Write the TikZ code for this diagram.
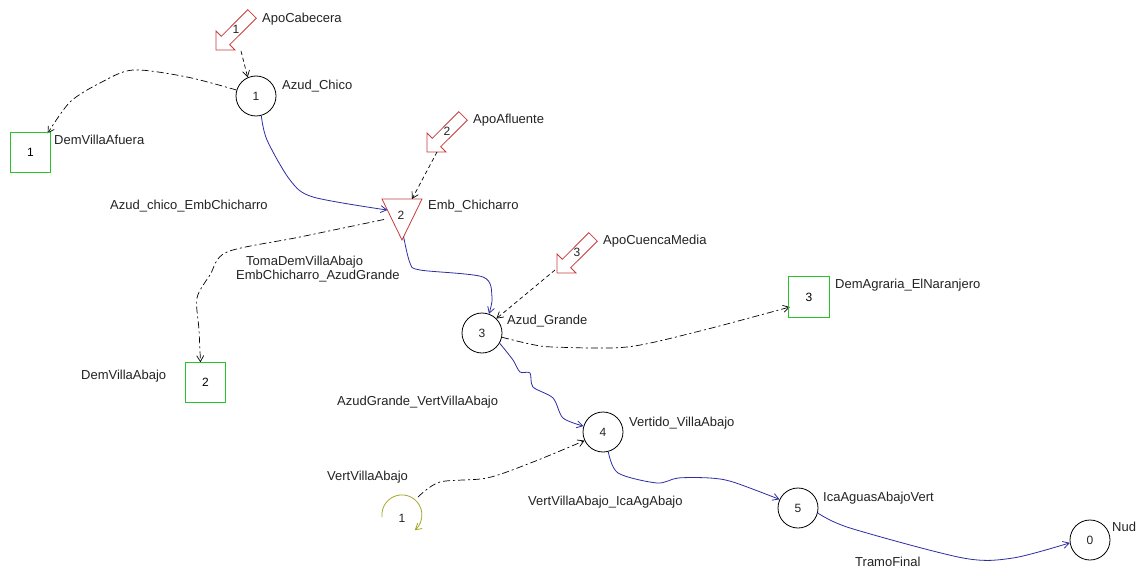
\documentclass[tikz,border=0pt]{standalone}
\usepackage{fontspec}
\setmainfont{Liberation Sans}
\usetikzlibrary{arrows.meta,calc}
\definecolor{flow}{RGB}{45,45,165}
\definecolor{apored}{RGB}{200,60,60}
\definecolor{demgreen}{RGB}{40,195,40}
\definecolor{vertolive}{RGB}{165,165,40}
\definecolor{txt}{RGB}{35,35,35}
\tikzset{
  lbl/.style={anchor=base west, inner sep=0pt, yshift=-4.7pt, font=\fontsize{13}{15}\selectfont, text=txt},
  num/.style={inner sep=0pt, font=\fontsize{12}{14}\selectfont, text=txt},
  nudo/.style={circle, draw=black, line width=0.8pt, minimum size=40pt, inner sep=0pt, font=\fontsize{12}{14}\selectfont, text=txt},
  dembox/.style={rectangle, minimum size=40pt, inner sep=0pt, font=\fontsize{12}{14}\selectfont},
  demframe/.style={draw=demgreen, line width=1.2pt},
  tip/.style={-{Straight Barb[length=6pt,width=7pt]}},
  rio/.style={draw=flow, line width=0.8pt, tip},
  toma/.style={draw=black, line width=0.7pt, dash pattern=on 7pt off 3pt on 2pt off 3pt, tip},
  aport/.style={draw=black, line width=0.7pt, dash pattern=on 4pt off 3pt, tip},
  apo/.pic={
    \draw[apored, line width=0.8pt] (0,0) -- (19,0) -- (13.7,-5.3) -- (40.3,-31.8)
      -- (31.8,-40.3) -- (5.3,-13.7) -- (0,-19) -- cycle;
    \node[num] at (20,-21) {#1};
    \coordinate (-tip) at (0,0);
  }
}
\begin{document}
\begin{tikzpicture}[x=1pt,y=-1pt]
\useasboundingbox[fill=white] (0,0) rectangle (1137,572);

% demandas
\node[dembox] (dem1) at (30.5,152.5) {1};
\node[dembox] (dem2) at (205.5,382.5) {2};
\node[dembox] (dem3) at (809,297) {3};

% aportaciones
\pic (a1) at (216,50) {apo=1};
\pic (a2) at (427,152) {apo=2};
\pic (a3) at (557,273) {apo=3};

% nudos
\node[nudo] (c1) at (256,96) {1};
\node[nudo] (c3) at (482,333) {3};
\node[nudo] (c4) at (603,432) {4};
\node[nudo] (c5) at (798,508) {5};
\node[nudo] (c0) at (1090,540) {0};

% embalse
\coordinate (embTL) at (382,199);
\coordinate (embTR) at (422,199);
\coordinate (embB) at (402,240);
\draw[apored, line width=0.8pt] (embTL) -- (embTR) -- (embB) -- cycle;
\node[num] (emb) at (401,215) {2};

% vertido
\node[num] (vert1) at (402,518) {1};
\draw[vertolive, line width=0.8pt, tip] ($(vert1)+(-20,-1)$) arc[start angle=174, end angle=410, radius=20];
\coordinate (vertout) at ($(vert1)+(16,-21)$);

% puntos auxiliares
\coordinate (dem1in) at ($(dem1.north east)+(-3,1)$);
\coordinate (dem2in) at ($(dem2.north)+(-5,0)$);
\coordinate (dem3in) at ($(dem3.west)+(1,10)$);
\coordinate (embL) at ($(embTL)!0.27!(embB)$);
\coordinate (embLo) at ($(embTL)!0.5!(embB)+(-8,0)$);
\coordinate (embBr) at ($(embB)!0.08!(embTR)$);
\coordinate (embTop) at ($(embTL)!0.75!(embTR)$);

% aportaciones -> nudos
\draw[aport] ($(a1-tip)+(25,1)$) -- (c1.114);
\draw[aport] ($(a2-tip)+(10,0)$) -- (embTop);
\draw[aport] ($(a3-tip)+(-2,-3)$) -- (c3.45);

% tomas
\draw[toma] plot[smooth, tension=0.5] coordinates {(c1.163) (187,77) (133,70) (100,83) (70,102) (dem1in)};
\draw[toma] plot[smooth, tension=0.5] coordinates {(embLo) (300,237) (227,252) (210,275) (197,298) (199,330) (dem2in)};
\draw[toma] plot[smooth, tension=0.5] coordinates {(c3.-12) (530,344) (553,347) (627,347) (700,331) (dem3in)};
\draw[toma] plot[smooth, tension=0.5] coordinates {(vertout) (440,482) (487,478) (533,462) (c4.205)};

% tramos de rio
\draw[rio] plot[smooth, tension=0.5] coordinates {(c1.-75) (267,140) (290,180) (313,197) (embL)};
\draw[rio] plot[smooth, tension=0.5] coordinates {(embBr) (410,263) (420,270) (483,277) (492,297) (c3.70)};
\draw[rio] plot[smooth, tension=0.5] coordinates {(c3.-30) (513,360) (520,372) (530,373) (533,387) (553,398) (563,418) (c4.163)};
\draw[rio] plot[smooth, tension=0.5] coordinates {(c4.-75) (618,473) (657,483) (678,478) (710,478) (733,482) (c5.155)};
\draw[rio] plot[smooth, tension=0.5] coordinates {(c5.-14) (850,528) (963,558) (1013,558) (c0.188)};

% marcos de demandas
\draw[demframe] (dem1.south west) rectangle (dem1.north east);
\draw[demframe] (dem2.south west) rectangle (dem2.north east);
\draw[demframe] (dem3.south west) rectangle (dem3.north east);

% etiquetas
\node[lbl] (lApoCab) at (262,18) {ApoCabecera};
\node[lbl] (lAzudChico) at (282,85) {Azud\_Chico};
\node[lbl] (lDemVA) at (54,140) {DemVillaAfuera};
\node[lbl] (lT1) at (110,205) {Azud\_chico\_EmbChicharro};
\node[lbl] (lEmb) at (428,205) {Emb\_Chicharro};
\node[lbl] (lApoAfl) at (473,119) {ApoAfluente};
\node[lbl] (lApoCM) at (603,240) {ApoCuencaMedia};
\node[lbl] (lToma) at (246,261) {TomaDemVillaAbajo};
\node[lbl] (lT2) at (236,275) {EmbChicharro\_AzudGrande};
\node[lbl] (lAzudGr) at (507,320) {Azud\_Grande};
\node[lbl] (lDemAg) at (835,284) {DemAgraria\_ElNaranjero};
\node[lbl] (lDemVAb) at (81,375) {DemVillaAbajo};
\node[lbl] (lT3) at (337,401) {AzudGrande\_VertVillaAbajo};
\node[lbl] (lVertido) at (629,422) {Vertido\_VillaAbajo};
\node[lbl] (lVert) at (327,476) {VertVillaAbajo};
\node[lbl] (lT4) at (528,501) {VertVillaAbajo\_IcaAgAbajo};
\node[lbl] (lIca) at (823,497) {IcaAguasAbajoVert};
\node[lbl] (lNud) at (1112,527) {Nud};
\node[lbl] (lTramo) at (855,562) {TramoFinal};
\end{tikzpicture}
\end{document}
